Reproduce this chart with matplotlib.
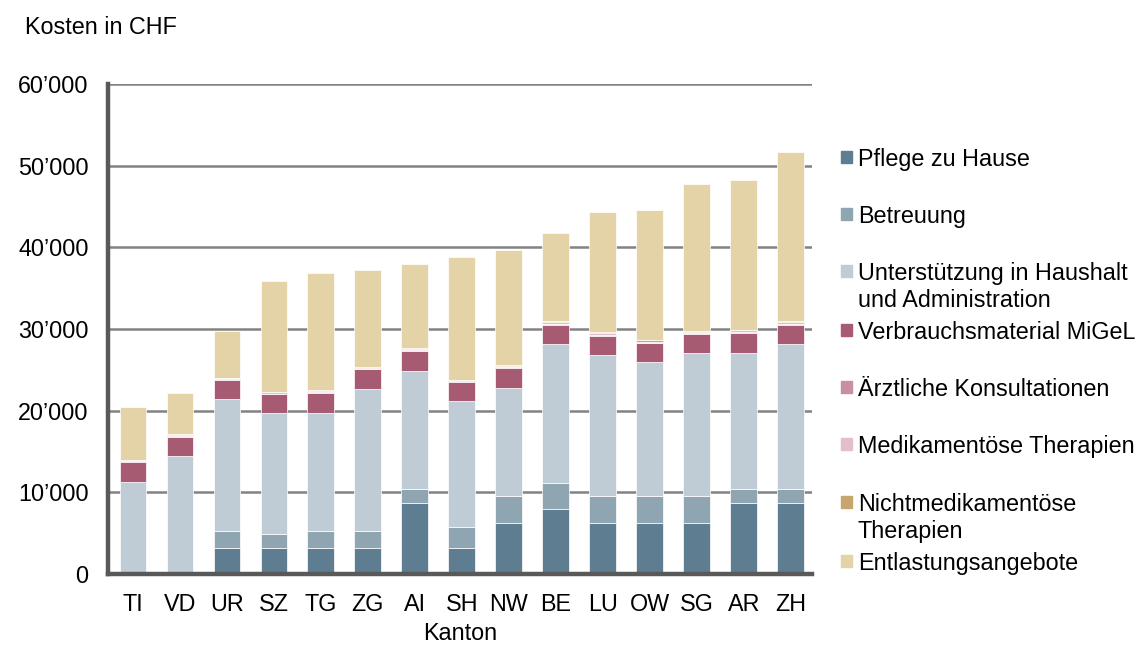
import matplotlib.pyplot as plt
import numpy as np

plt.rcParams['font.family'] = ['Liberation Sans', 'DejaVu Sans']

kantone = ["TI", "VD", "UR", "SZ", "TG", "ZG", "AI", "SH", "NW", "BE", "LU", "OW", "SG", "AR", "ZH"]

serien = ["Pflege zu Hause", "Betreuung", "Unterstützung in Haushalt\nund Administration",
          "Verbrauchsmaterial MiGeL", "Ärztliche Konsultationen", "Medikamentöse Therapien",
          "Nichtmedikamentöse\nTherapien", "Entlastungsangebote"]

# Kosten in CHF pro Kanton
pflege = [0, 0, 3150, 3150, 3150, 3150, 8700, 3150, 6200, 7900, 6200, 6200, 6200, 8650, 8650]
betreuung = [0, 0, 2150, 1700, 2150, 2150, 1700, 2650, 3400, 3200, 3400, 3400, 3400, 1750, 1750]
unterstuetzung = [11300, 14500, 16100, 14900, 14450, 17300, 14500, 15350, 13200, 17100, 17200, 16300, 17500, 16700, 17800]
migel = [2450, 2300, 2400, 2250, 2450, 2450, 2400, 2350, 2400, 2350, 2350, 2350, 2250, 2400, 2350]
aerztlich = [80, 80, 80, 80, 80, 80, 100, 80, 100, 100, 100, 80, 100, 100, 100]
medikamentoes = [80, 200, 100, 200, 120, 150, 150, 100, 220, 200, 300, 120, 220, 250, 200]
nichtmedikamentoes = [100, 20, 20, 20, 100, 20, 150, 120, 30, 150, 50, 150, 30, 50, 150]
entlastung = [6400, 5100, 5700, 13600, 14400, 11900, 10200, 15000, 14150, 10800, 14700, 16000, 18000, 18400, 20700]

farben = ["#5f7d90", "#8fa5b2", "#bfccd5", "#a65b72", "#c88ea1", "#e2bfcb", "#c8a56f", "#e3d3a6"]

W, H = 1138, 646
fs = 16.8
fig = plt.figure(figsize=(W / 100, H / 100), dpi=100)
ax = fig.add_axes([108 / W, 1 - 574 / H, (812 - 108) / W, (574 - 84) / H])

x = np.arange(len(kantone))
unten = np.zeros(len(kantone))
for werte, farbe in zip([pflege, betreuung, unterstuetzung, migel, aerztlich,
                         medikamentoes, nichtmedikamentoes, entlastung], farben):
    ax.bar(x, werte, 0.57, bottom=unten, color=farbe, edgecolor='white', linewidth=0.5, zorder=3)
    unten += np.array(werte)

ax.set_xlim(-0.53, 14.45)
ax.set_ylim(0, 60000)
ax.set_yticks(np.arange(0, 60001, 10000))
ax.set_yticklabels([f"{v:,.0f}".replace(",", "’") for v in range(0, 60001, 10000)])
ax.set_xticks(x)
ax.set_xticklabels(kantone)
ax.tick_params(axis='both', length=0, labelsize=fs, colors='black')
ax.tick_params(axis='y', pad=14)
ax.tick_params(axis='x', pad=14)
ax.grid(axis='y', color='#828282', linewidth=1.8, zorder=0)
ax.set_axisbelow(True)
for s in ['top', 'right']:
    ax.spines[s].set_visible(False)
for s in ['left', 'bottom']:
    ax.spines[s].set_color('#595959')
    ax.spines[s].set_linewidth(3.2)
    ax.spines[s].set_zorder(4)

ax.set_xlabel("Kanton", fontsize=fs, labelpad=4)
fig.text(25 / W, 1 - 27 / H, "Kosten in CHF", fontsize=fs, va='center', ha='left')

# Legende von Hand
leg_y = [157, 214, 271, 330, 387, 444, 502, 561]
for name, farbe, yy in zip(serien, farben, leg_y):
    fig.patches.append(plt.Rectangle((841 / W, 1 - (yy + 6) / H), 11 / W, 12 / H,
                                     transform=fig.transFigure, color=farbe))
    for j, zeile in enumerate(name.split("\n")):
        fig.text(858 / W, 1 - (yy + j * 27) / H, zeile, fontsize=fs,
                 va='center_baseline', ha='left')

fig.savefig("out.png", dpi=100)
